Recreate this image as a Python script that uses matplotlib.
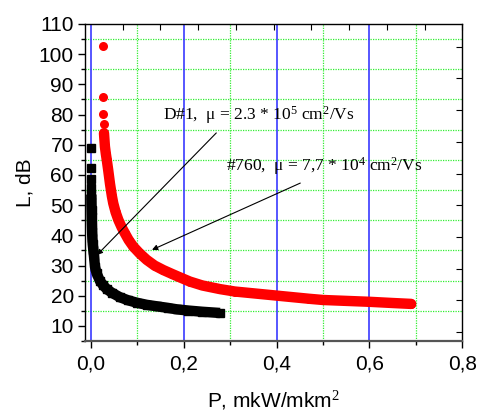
"""
L vs P for two samples (D#1 and #760).
"""

import matplotlib

matplotlib.use("Agg")
import matplotlib.pyplot as plt
import numpy as np
from matplotlib.ticker import FuncFormatter, MultipleLocator

plt.rcParams.update(
    {
        "font.family": "Liberation Sans",
        "mathtext.fontset": "custom",
        "mathtext.rm": "Liberation Serif",
        "mathtext.it": "Liberation Serif:italic",
        "figure.dpi": 100,
    }
)

# D#1 (black squares)
p_d1 = [0.0004, 0.0005, 0.0006, 0.0007, 0.0008, 0.0010, 0.0012, 0.0015, 0.0019,
        0.0024, 0.0030, 0.0038, 0.005, 0.0065, 0.0086, 0.012, 0.019, 0.026, 0.034,
        0.045, 0.0625, 0.08, 0.0985, 0.12, 0.142, 0.165, 0.185, 0.21, 0.24, 0.278]
l_d1 = [68.8, 62.3, 58.7, 55.8, 53.5, 51.0, 48.5, 46.0, 43.5,
        41.0, 39.0, 37.0, 35.2, 33.0, 29.6, 27.5, 25.0, 23.5, 22.2,
        21.0, 19.5, 18.5, 17.7, 17.0, 16.5, 16.0, 15.5, 15.1, 14.7, 14.3]

# #760 (red circles)
p_760 = [0.026, 0.0265, 0.0267, 0.027, 0.028, 0.030, 0.032, 0.034, 0.037, 0.041,
         0.045, 0.048, 0.053, 0.059, 0.066, 0.073, 0.081, 0.091, 0.105, 0.12,
         0.137, 0.156, 0.175, 0.19, 0.213, 0.24, 0.278, 0.31, 0.35, 0.39,
         0.43, 0.47, 0.50, 0.55, 0.60, 0.65, 0.69]
l_760 = [102.7, 85.9, 80.2, 76.7, 73.8, 69.4, 67.0, 65.0, 61.7, 57.0,
         53.0, 50.6, 47.7, 45.1, 42.7, 40.7, 38.5, 36.3, 34.0, 31.9,
         30.0, 28.5, 27.2, 26.2, 24.7, 23.4, 22.2, 21.4, 20.8, 20.2,
         19.6, 19.0, 18.6, 18.3, 18.0, 17.6, 17.3]

label_d1 = "D#1,  μ = 2.3 * 10$^{5}$ cm$^{2}$/Vs"
label_760 = "#760,  μ = 7,7 * 10$^{4}$ cm$^{2}$/Vs"

fig = plt.figure(figsize=(4.8, 4.19))
ax = fig.add_axes([0.177, 0.186, 0.786, 0.757])

# grid: green dotted at minor positions, blue verticals at major x
for xv in [0.1, 0.3, 0.5, 0.7]:
    ax.axvline(xv, color="#33ee33", lw=0.9, ls=(0, (1, 1)), zorder=0)
for yv in np.arange(15, 110, 10):
    ax.axhline(yv, color="#33ee33", lw=0.9, ls=(0, (1, 1)), zorder=0)
for xv in [0.0, 0.2, 0.4, 0.6]:
    ax.axvline(xv, color="#3a3aff", lw=1.2, zorder=0)

# dense bands drawn as thick lines through the read points, plus the markers
ax.plot(p_d1[4:], l_d1[4:], color="black", lw=7.5, solid_capstyle="butt", zorder=2)
ax.plot(p_d1, l_d1, "s", color="black", ms=5.5, zorder=3)
ax.plot(p_760[4:], l_760[4:], color="#ff0000", lw=7.5, solid_capstyle="round", zorder=2)
ax.plot(p_760, l_760, "o", color="#ff0000", ms=6.5, mec="none", zorder=3)

ax.set_xlim(-0.013, 0.8)
ax.set_ylim(5, 110)

ax.xaxis.set_major_locator(MultipleLocator(0.2))
ax.xaxis.set_minor_locator(MultipleLocator(0.1))
ax.yaxis.set_major_locator(MultipleLocator(10))
ax.yaxis.set_minor_locator(MultipleLocator(5))
ax.xaxis.set_major_formatter(FuncFormatter(lambda v, pos: f"{v:.1f}".replace(".", ",")))
ax.yaxis.set_major_formatter(FuncFormatter(lambda v, pos: "" if v < 10 else f"{v:.0f}"))

ax.tick_params(axis="both", which="major", direction="out", length=5, width=1,
               labelsize=15, top=False, right=False)
ax.tick_params(axis="both", which="minor", direction="out", length=3, width=1,
               top=False, right=False)
ax.tick_params(axis="x", which="major", pad=5)
ax.tick_params(axis="y", which="major", pad=3)

ax.spines["bottom"].set_color("#555555")
ax.spines["bottom"].set_linewidth(1.6)
for side in ["left", "top", "right"]:
    ax.spines[side].set_linewidth(1.0)

# inward ticks on top and right (separate scales)
ax_top = ax.twiny()
ax_top.set_xlim(0, 10)
ax_top.set_xticks(np.arange(1, 11))
ax_top.tick_params(axis="x", direction="in", length=4, labeltop=False)
ax_right = ax.twinx()
ax_right.set_ylim(0, 10)
ax_right.set_yticks(np.arange(10) + 0.28)
ax_right.tick_params(axis="y", direction="in", length=4, labelright=False)
for a in (ax_top, ax_right):
    for s in a.spines.values():
        s.set_visible(False)

ax.set_xlabel("P, mkW/mkm$^{2}$", fontsize=15, labelpad=11)
ax.set_ylabel("L, dB", fontsize=15, labelpad=3)

ax.annotate("", xy=(0.013, 33.5), xytext=(0.27, 73.9),
            arrowprops=dict(arrowstyle="-|>", color="black", lw=0.8,
                            mutation_scale=8, shrinkA=0, shrinkB=0))
ax.annotate("", xy=(0.1315, 35.2), xytext=(0.451, 57.3),
            arrowprops=dict(arrowstyle="-|>", color="black", lw=0.8,
                            mutation_scale=8, shrinkA=0, shrinkB=0))

ax.text(0.155, 78.2, label_d1, fontsize=12.5, family="Liberation Serif", zorder=4)
ax.text(0.29, 61.3, label_760, fontsize=12.5, family="Liberation Serif", zorder=4)

fig.savefig("out.png", dpi=100)
plt.close(fig)
